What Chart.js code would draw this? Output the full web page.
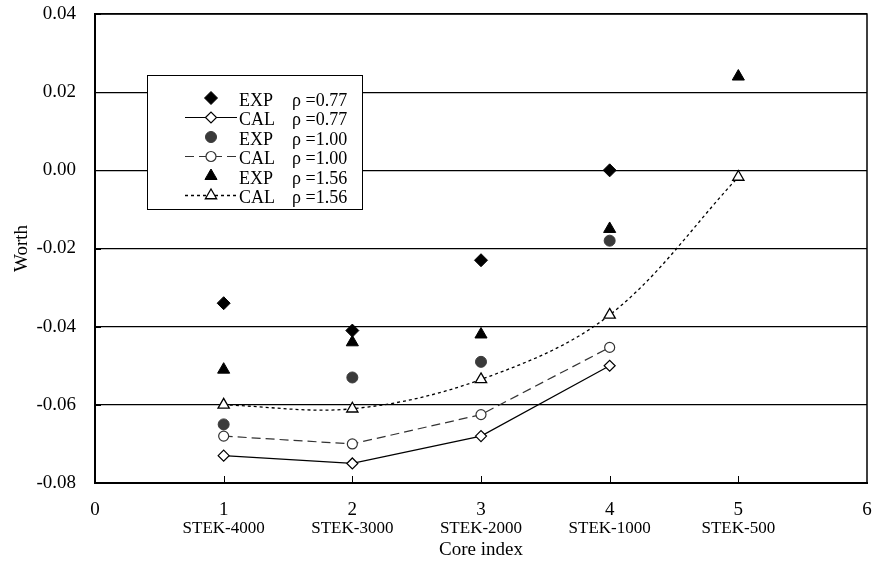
<!DOCTYPE html>
<html>
<head>
<meta charset="utf-8">
<script src="https://cdn.jsdelivr.net/npm/chart.js@4/dist/chart.umd.min.js"></script>
<style>
  html, body { margin: 0; padding: 0; background: #fff; }
  #wrap { width: 875px; height: 573px; }
</style>
</head>
<body>
<div id="wrap"><canvas id="chart" width="875" height="573"></canvas></div>
<script>
// 数据
const coreIndex = [1, 2, 3, 4, 5];
const coreNames = ['STEK-4000', 'STEK-3000', 'STEK-2000', 'STEK-1000', 'STEK-500'];
const yTicks = [0.04, 0.02, 0.00, -0.02, -0.04, -0.06, -0.08];

const exp077 = [-0.034, -0.041, -0.023, 0.000];
const cal077 = [-0.073, -0.075, -0.068, -0.050];
const exp100 = [-0.065, -0.053, -0.049, -0.018];
const cal100 = [-0.068, -0.070, -0.0625, -0.0453];
const exp156 = [-0.051, -0.044, -0.042, -0.015, 0.024];
const cal156 = [-0.060, -0.061, -0.0535, -0.037, -0.0017];

const legendLabels = [
    ['EXP', 'ρ =0.77'],
    ['CAL', 'ρ =0.77'],
    ['EXP', 'ρ =1.00'],
    ['CAL', 'ρ =1.00'],
    ['EXP', 'ρ =1.56'],
    ['CAL', 'ρ =1.56'],
];

const SERIF = '"Liberation Serif", "DejaVu Serif", serif';

function pts(values) {
    return values.map((v, i) => ({ x: coreIndex[i], y: v }));
}

const datasets = [
    {
        data: pts(exp077), showLine: false,
        pointStyle: 'rectRot', pointRadius: 6.5,
        backgroundColor: '#000', borderColor: '#000', pointBorderWidth: 1,
    },
    {
        data: pts(cal077), showLine: true, tension: 0,
        borderColor: '#000', borderWidth: 1.2,
        pointStyle: 'rectRot', pointRadius: 5.5,
        pointBackgroundColor: '#fff', pointBorderColor: '#000', pointBorderWidth: 1.2,
    },
    {
        data: pts(exp100), showLine: false,
        pointStyle: 'circle', pointRadius: 5.5,
        backgroundColor: '#3a3a3a', borderColor: '#3a3a3a', pointBorderWidth: 1,
    },
    {
        data: pts(cal100), showLine: true, tension: 0,
        borderColor: '#333', borderWidth: 1.2, borderDash: [9, 5],
        pointStyle: 'circle', pointRadius: 5,
        pointBackgroundColor: '#fff', pointBorderColor: '#333', pointBorderWidth: 1.2,
    },
    {
        data: pts(exp156), showLine: false,
        pointStyle: 'triangle', pointRadius: 7,
        backgroundColor: '#000', borderColor: '#000', pointBorderWidth: 1,
    },
    {
        data: pts(cal156), showLine: true, tension: 0.35,
        borderColor: '#000', borderWidth: 1.3, borderDash: [3, 3],
        pointStyle: 'triangle', pointRadius: 6.5,
        pointBackgroundColor: '#fff', pointBorderColor: '#000', pointBorderWidth: 1.3,
    },
];

// 边框、内向刻度、STEK 标签、图例
const decorPlugin = {
    id: 'decor',
    afterDraw(chart) {
        const ctx = chart.ctx;
        const area = chart.chartArea;
        const xs = chart.scales.x;
        const ys = chart.scales.y;
        ctx.save();

        // 上、右边框
        ctx.strokeStyle = '#000';
        ctx.lineWidth = 1.5;
        ctx.beginPath();
        ctx.moveTo(area.left, area.top);
        ctx.lineTo(area.right, area.top);
        ctx.lineTo(area.right, area.bottom);
        ctx.stroke();

        // 内向刻度
        ctx.lineWidth = 1;
        ctx.beginPath();
        yTicks.forEach(v => {
            const y = Math.round(ys.getPixelForValue(v)) + 0.5;
            ctx.moveTo(area.left, y);
            ctx.lineTo(area.left + 6, y);
        });
        coreIndex.forEach(v => {
            const x = Math.round(xs.getPixelForValue(v)) + 0.5;
            ctx.moveTo(x, area.bottom);
            ctx.lineTo(x, area.bottom - 7);
        });
        ctx.stroke();

        // STEK 标签
        ctx.fillStyle = '#000';
        ctx.font = '17px ' + SERIF;
        ctx.textAlign = 'center';
        ctx.textBaseline = 'middle';
        coreNames.forEach((name, i) => {
            ctx.fillText(name, xs.getPixelForValue(coreIndex[i]), 529);
        });

        // 图例
        const bx = 147, by = 75, bw = 215, bh = 134;
        ctx.fillStyle = '#fff';
        ctx.fillRect(bx, by, bw, bh);
        ctx.strokeStyle = '#000';
        ctx.lineWidth = 1;
        ctx.strokeRect(bx + 0.5, by + 0.5, bw, bh);

        const drawPoint = Chart.helpers && Chart.helpers.drawPoint;
        legendLabels.forEach((lab, i) => {
            const ds = datasets[i];
            const ty = 101 + i * 19.5;
            const my = ty - 3;
            if (ds.showLine) {
                ctx.save();
                ctx.strokeStyle = ds.borderColor;
                ctx.lineWidth = ds.borderWidth;
                ctx.setLineDash(ds.borderDash || []);
                ctx.beginPath();
                ctx.moveTo(185, my);
                ctx.lineTo(237, my);
                ctx.stroke();
                ctx.restore();
            }
            ctx.save();
            ctx.fillStyle = ds.pointBackgroundColor || ds.backgroundColor;
            ctx.strokeStyle = ds.pointBorderColor || ds.borderColor;
            ctx.lineWidth = ds.pointBorderWidth;
            ctx.setLineDash([]);
            if (drawPoint) {
                drawPoint(ctx, {
                    pointStyle: ds.pointStyle, radius: ds.pointRadius,
                    rotation: 0, borderWidth: ds.pointBorderWidth,
                }, 211, my);
            }
            ctx.restore();

            ctx.fillStyle = '#000';
            ctx.font = '18px ' + SERIF;
            ctx.textAlign = 'left';
            ctx.textBaseline = 'middle';
            ctx.fillText(lab[0], 239, ty);
            ctx.fillText(lab[1], 292, ty);
        });

        ctx.restore();
    },
};

new Chart(document.getElementById('chart'), {
    type: 'scatter',
    data: { datasets: datasets },
    options: {
        responsive: false,
        animation: false,
        devicePixelRatio: 1,
        layout: { padding: { top: 14, right: 5, left: 0, bottom: 0 } },
        plugins: {
            legend: { display: false },
            tooltip: { enabled: false },
        },
        scales: {
            x: {
                type: 'linear', min: 0, max: 6,
                afterFit: s => { s.height = 90; },
                grid: {
                    display: true, drawOnChartArea: false, color: 'transparent',
                    drawTicks: true, tickLength: 16, tickColor: 'transparent',
                },
                border: { display: true, color: '#000', width: 2 },
                ticks: {
                    stepSize: 1, padding: 0, color: '#000',
                    font: { family: SERIF, size: 19 },
                },
                title: {
                    display: true, text: 'Core index', color: '#000',
                    font: { family: SERIF, size: 19 },
                    padding: { top: 0, bottom: 12 },
                },
            },
            y: {
                min: -0.08, max: 0.04,
                afterFit: s => { s.width = 95; },
                grid: {
                    color: '#000', lineWidth: 1.3,
                    drawTicks: true, tickLength: 19, tickColor: 'transparent',
                },
                border: { display: true, color: '#000', width: 2 },
                ticks: {
                    stepSize: 0.02, padding: 0, color: '#000',
                    font: { family: SERIF, size: 19 },
                    callback: v => (Math.abs(v) < 1e-9 ? '0.00' : v.toFixed(2)),
                },
                title: {
                    display: true, text: 'Worth', color: '#000',
                    font: { family: SERIF, size: 19 },
                    padding: { top: 11, bottom: 0 },
                },
            },
        },
    },
    plugins: [decorPlugin],
});
</script>
</body>
</html>
